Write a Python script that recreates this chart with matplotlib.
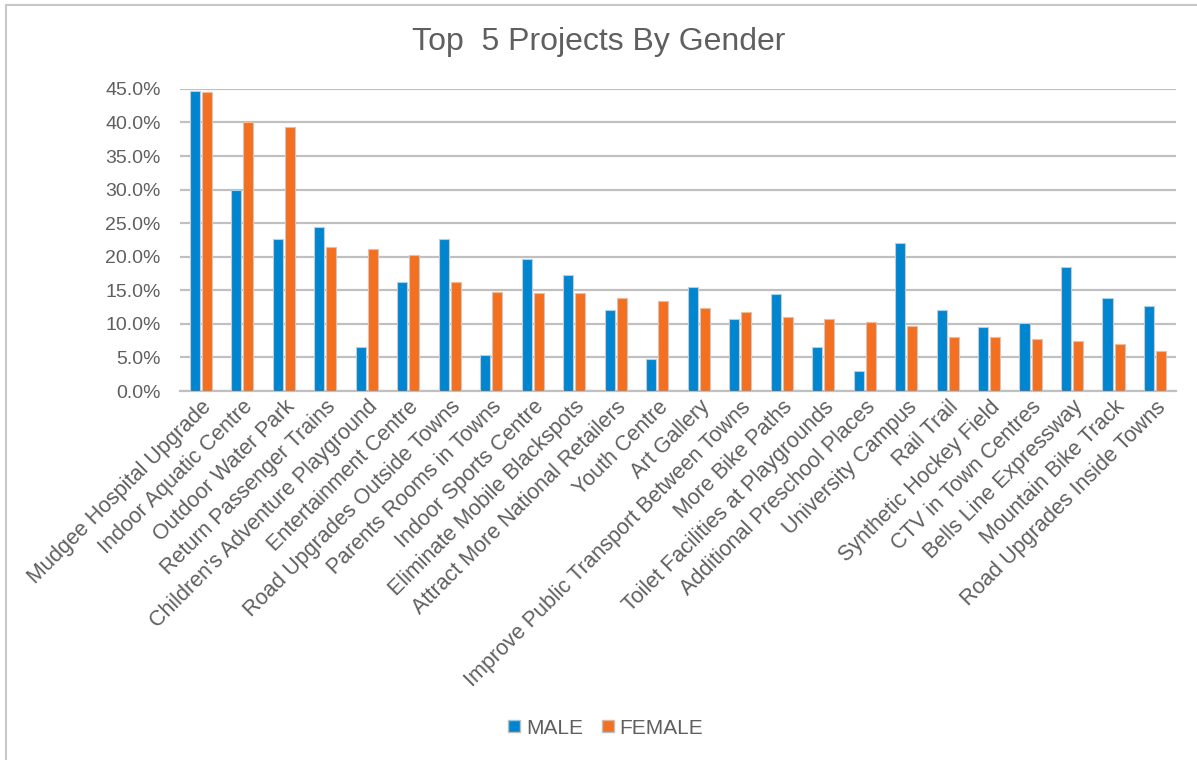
import numpy as np
import matplotlib.pyplot as plt
from matplotlib.lines import Line2D
from matplotlib.ticker import FuncFormatter

plt.rcParams['font.family'] = ['Liberation Sans', 'DejaVu Sans']

# Projects and share of respondents (%) who picked each one
projects = [
    'Mudgee Hospital Upgrade', 'Indoor Aquatic Centre', 'Outdoor Water Park',
    'Return Passenger Trains', "Children's Adventure Playground",
    'Entertainment Centre', 'Road Upgrades Outside Towns',
    'Parents Rooms in Towns', 'Indoor Sports Centre',
    'Eliminate Mobile Blackspots', 'Attract More National Retailers',
    'Youth Centre', 'Art Gallery', 'Improve Public Transport Between Towns',
    'More Bike Paths', 'Toilet Facilities at Playgrounds',
    'Additional Preschool Places', 'University Campus', 'Rail Trail',
    'Synthetic Hockey Field', 'CTV in Town Centres', 'Bells Line Expressway',
    'Mountain Bike Track', 'Road Upgrades Inside Towns',
]
male = [44.7, 29.9, 22.7, 24.5, 6.6, 16.2, 22.7, 5.4, 19.7, 17.3, 12.0, 4.8,
        15.5, 10.7, 14.4, 6.6, 3.0, 22.0, 12.0, 9.5, 10.1, 18.5, 13.8, 12.6]
female = [44.5, 40.1, 39.3, 21.4, 21.2, 20.3, 16.3, 14.7, 14.6, 14.6, 13.8,
          13.4, 12.4, 11.8, 11.0, 10.8, 10.3, 9.7, 8.1, 8.1, 7.7, 7.5, 7.0, 6.0]

blue = '#0086D1'
orange = '#F37021'
grey_text = '#5f5f5f'

fig = plt.figure(figsize=(11.97, 7.6), dpi=100)
ax = fig.add_axes([0.1504, 0.4855, 0.832, 0.3975])

x = np.arange(len(projects))
w = 0.25
ax.bar(x - 0.145, male, w, color=blue, edgecolor='#c9c9c9', linewidth=0.8,
       zorder=3, label='MALE')
ax.bar(x + 0.145, female, w, color=orange, edgecolor='#d2c4bc', linewidth=0.8,
       zorder=3, label='FEMALE')

ax.set_xlim(-0.5, len(projects) - 0.5)
ax.set_ylim(0, 45)
ax.set_yticks(np.arange(0, 46, 5))
ax.yaxis.set_major_formatter(FuncFormatter(lambda v, p: f'{v:.1f}%'))
ax.grid(axis='y', color='#c0c0c0', linewidth=1.6, zorder=0)
ax.set_axisbelow(True)
for s in ['top', 'right', 'left']:
    ax.spines[s].set_visible(False)
ax.spines['bottom'].set_color('#c0c0c0')
ax.spines['bottom'].set_linewidth(1.6)
ax.tick_params(axis='y', length=0, pad=14, labelsize=14, labelcolor=grey_text)
ax.tick_params(axis='x', length=0, pad=4)
ax.set_xticks(x)
ax.set_xticklabels(projects, rotation=45, ha='right', va='top',
                   rotation_mode='anchor', fontsize=15.5, color=grey_text)

fig.text(0.5, 1 - 42 / 760, 'Top  5 Projects By Gender', ha='center',
         va='center', fontsize=23, color=grey_text)

handles = [Line2D([], [], marker='s', linestyle='none', markersize=9,
                  markerfacecolor=c, markeredgecolor='#bdbdbd')
           for c in (blue, orange)]
fig.legend(handles, ['MALE', 'FEMALE'], loc='center',
           bbox_to_anchor=(0.505, 1 - 728 / 760), ncol=2, frameon=False,
           fontsize=15, labelcolor=grey_text, handletextpad=0.15,
           columnspacing=0.8, handlelength=0.8)

# thin frame on the left and top edges
fig.add_artist(Line2D([6 / 1197, 6 / 1197], [0, 1 - 5 / 760],
                      transform=fig.transFigure, color='#c8c8c8', lw=1.5))
fig.add_artist(Line2D([6 / 1197, 1], [1 - 5 / 760, 1 - 5 / 760],
                      transform=fig.transFigure, color='#c8c8c8', lw=1.5))

fig.savefig('out.png', dpi=100)
